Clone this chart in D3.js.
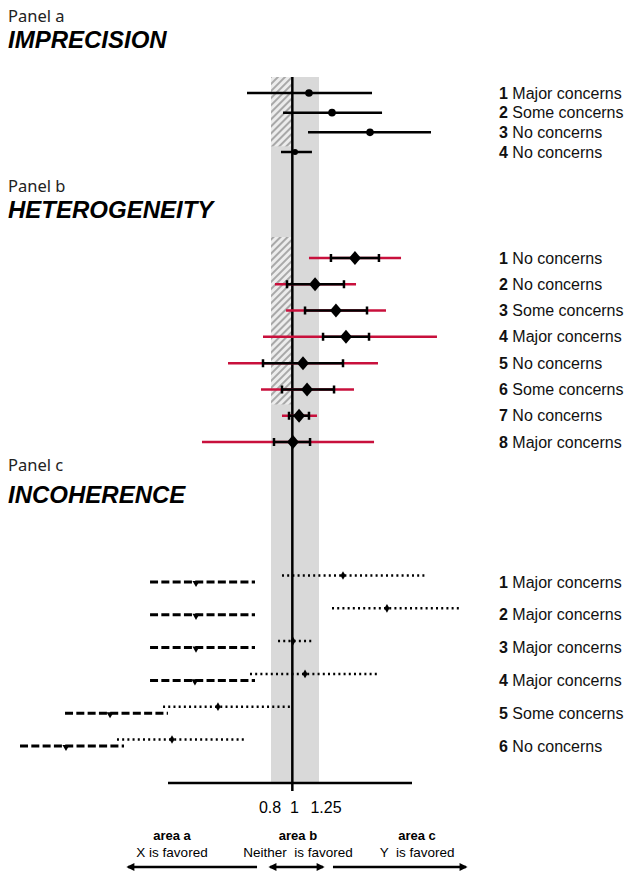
<!DOCTYPE html>
<html>
<head>
<meta charset="utf-8">
<script src="https://cdn.jsdelivr.net/npm/d3@7"></script>
<style>
  body { margin: 0; background: #fff; }
  svg { display: block; }
</style>
</head>
<body>
<div class="svg-container"></div>
<script>
// panel a - imprecision
const impRows = [1, 2, 3, 4];
const impLabels = ["Major concerns", "Some concerns", "No concerns", "No concerns"];
const impEst = [1.156, 1.372, 1.728, 1.025];
const impLo = [0.575, 0.913, 1.147, 0.894];
const impHi = [1.747, 1.841, 2.3, 1.184];

// panel b - heterogeneity (ci = black, pi = red)
const hetRows = [1, 2, 3, 4, 5, 6, 7, 8];
const hetLabels = ["No concerns", "No concerns", "Some concerns", "Major concerns",
  "No concerns", "Some concerns", "No concerns", "Major concerns"];
const hetEst = [1.587, 1.213, 1.409, 1.503, 1.1, 1.138, 1.063, 1.006];
const hetCiLo = [1.362, 0.95, 1.119, 1.288, 0.725, 0.903, 0.969, 0.828];
const hetCiHi = [1.812, 1.484, 1.7, 1.719, 1.475, 1.391, 1.156, 1.166];
const hetPiLo = [1.156, 0.837, 0.941, 0.725, 0.397, 0.706, 0.903, 0.153];
const hetPiHi = [2.019, 1.597, 1.878, 2.356, 1.803, 1.578, 1.231, 1.766];

// panel c - incoherence (indirect = dashed, direct = dotted)
const incRows = [1, 2, 3, 4, 5, 6];
const incLabels = ["Major concerns", "Major concerns", "Major concerns",
  "Major concerns", "Some concerns", "No concerns"];
const indEst = [0.097, 0.097, 0.097, 0.087, -0.709, -1.122];
const indLo = [-0.334, -0.334, -0.334, -0.334, -1.131, -1.553];
const indHi = [0.65, 0.65, 0.65, 0.65, -0.166, -0.578];
const dirEst = [1.475, 1.887, 1.006, 1.119, 0.303, -0.128];
const dirLo = [0.903, 1.372, 0.866, 0.603, -0.212, -0.644];
const dirHi = [2.244, 2.563, 1.184, 1.803, 0.988, 0.556];

// axis and areas
const tickValues = [0.8, 1, 1.25];
const tickText = ["0.8", "1", "1.25"];
const areaNames = ["area a", "area b", "area c"];
const areaTexts = ["X is favored", "Neither  is favored", "Y  is favored"];
const areaCenter = [-0.128, 1.053, 2.169];
const areaFrom = [-0.541, 0.791, 1.381];
const areaTo = [0.669, 1.288, 2.628];

const W = 627, H = 871;
const red = "#c8103c";
const axisY = 783;

const x = d3.scaleLinear().domain([0.8, 1.25]).range([271, 319]);
const yA = d3.scalePoint().domain(impRows).range([93, 152]);
const yB = d3.scalePoint().domain(hetRows).range([258, 442]);
const yC = d3.scalePoint().domain(incRows).range([582, 746]);

const svg = d3.select("div.svg-container")
  .append("svg")
  .attr("width", W)
  .attr("height", H)
  .style("background-color", "#fff");

const defs = svg.append("defs");
defs.append("pattern")
  .attr("id", "hatch")
  .attr("patternUnits", "userSpaceOnUse")
  .attr("width", 5)
  .attr("height", 5)
  .attr("patternTransform", "rotate(45)")
  .call((p) => p.append("rect").attr("width", 5).attr("height", 5).attr("fill", "#ececec"))
  .append("line")
  .attr("x1", 1).attr("x2", 1).attr("y1", 0).attr("y2", 5)
  .attr("stroke", "#8c8c8c")
  .attr("stroke-width", 1.4);

defs.append("marker")
  .attr("id", "arrow")
  .attr("viewBox", "0 0 10 10")
  .attr("refX", 8)
  .attr("refY", 5)
  .attr("markerWidth", 3.6)
  .attr("markerHeight", 3.2)
  .attr("orient", "auto-start-reverse")
  .append("path")
  .attr("d", "M0,0L10,5L0,10z")
  .attr("fill", "#000");

// grey band of equivalence and hatched parts
svg.append("rect")
  .attr("x", x(0.8))
  .attr("y", yA(1) - 16)
  .attr("width", x(1.25) - x(0.8))
  .attr("height", axisY - (yA(1) - 16))
  .attr("fill", "#d9d9d9");

svg.append("g")
  .selectAll("rect")
  .data([[yA(1) - 16, yA(3) + 14], [yB(1) - 21, yB(6) + 15]])
  .join("rect")
  .attr("x", x(0.8))
  .attr("y", (d) => d[0])
  .attr("width", x(1) - x(0.8))
  .attr("height", (d) => d[1] - d[0])
  .attr("fill", "url(#hatch)");

// line of no effect + axis
svg.append("line")
  .attr("x1", x(1)).attr("x2", x(1))
  .attr("y1", yA(1) - 16).attr("y2", axisY + 8)
  .attr("stroke", "#000").attr("stroke-width", 2.5);

svg.append("line")
  .attr("x1", 168).attr("x2", 412)
  .attr("y1", axisY).attr("y2", axisY)
  .attr("stroke", "#000").attr("stroke-width", 2.5);

svg.append("g")
  .attr("font-family", "Liberation Sans, Arial, sans-serif")
  .attr("font-size", 16)
  .attr("text-anchor", "middle")
  .selectAll("text")
  .data(tickValues)
  .join("text")
  .attr("x", (d, i) => x(d) + [-1, 2, 7][i])
  .attr("y", axisY + 30)
  .text((d, i) => tickText[i]);

// panel headings
const heads = [
  { p: "Panel a", t: "IMPRECISION", y: 22 },
  { p: "Panel b", t: "HETEROGENEITY", y: 192 },
  { p: "Panel c", t: "INCOHERENCE", y: 471 },
];
const headG = svg.append("g")
  .selectAll("g")
  .data(heads)
  .join("g");
headG.append("text")
  .attr("x", 8)
  .attr("y", (d) => d.y)
  .attr("font-family", "Noto Sans, sans-serif")
  .attr("font-size", 16.5)
  .attr("fill", "#222")
  .text((d) => d.p);
headG.append("text")
  .attr("x", 8)
  .attr("y", (d, i) => d.y + (i === 2 ? 32 : 26))
  .attr("font-family", "Liberation Sans, Arial, sans-serif")
  .attr("font-size", 24)
  .attr("font-weight", "bold")
  .attr("font-style", "italic")
  .text((d) => d.t);

// row labels
const rowLabel = (rows, labels, y) => {
  svg.append("g")
    .attr("font-family", "Liberation Sans, Arial, sans-serif")
    .attr("font-size", 16)
    .attr("fill", "#111")
    .selectAll("text")
    .data(rows)
    .join("text")
    .attr("x", 499)
    .attr("y", (d) => y(d))
    .attr("dy", "0.35em")
    .call((t) => t.append("tspan").attr("font-weight", "bold").text((d) => d))
    .call((t) => t.append("tspan").text((d, i) => " " + labels[i]));
};
rowLabel(impRows, impLabels, yA);
rowLabel(hetRows, hetLabels, yB);
rowLabel(incRows, incLabels, yC);

// panel a
const gA = svg.append("g");
gA.selectAll("line")
  .data(impRows)
  .join("line")
  .attr("x1", (d, i) => x(impLo[i]))
  .attr("x2", (d, i) => x(impHi[i]))
  .attr("y1", (d) => yA(d))
  .attr("y2", (d) => yA(d))
  .attr("stroke", "#000")
  .attr("stroke-width", 2.5);
gA.selectAll("circle")
  .data(impRows)
  .join("circle")
  .attr("cx", (d, i) => x(impEst[i]))
  .attr("cy", (d) => yA(d))
  .attr("r", (d, i) => (i === 3 ? 3 : 3.8))
  .attr("fill", "#000");

// panel b
const gB = svg.append("g");
gB.selectAll("line.pi")
  .data(hetRows)
  .join("line")
  .attr("class", "pi")
  .attr("x1", (d, i) => x(hetPiLo[i]))
  .attr("x2", (d, i) => x(hetPiHi[i]))
  .attr("y1", (d) => yB(d))
  .attr("y2", (d) => yB(d))
  .attr("stroke", red)
  .attr("stroke-width", 2.5);
gB.selectAll("line.ci")
  .data(hetRows)
  .join("line")
  .attr("class", "ci")
  .attr("x1", (d, i) => x(hetCiLo[i]))
  .attr("x2", (d, i) => x(hetCiHi[i]))
  .attr("y1", (d) => yB(d))
  .attr("y2", (d) => yB(d))
  .attr("stroke", "#000")
  .attr("stroke-width", 2.5);
gB.selectAll("path.cap")
  .data(hetRows)
  .join("path")
  .attr("class", "cap")
  .attr("d", (d, i) => `M${x(hetCiLo[i])},${yB(d) - 4}v8M${x(hetCiHi[i])},${yB(d) - 4}v8`)
  .attr("stroke", "#000")
  .attr("stroke-width", 2.5);
gB.selectAll("path.est")
  .data(hetRows)
  .join("path")
  .attr("class", "est")
  .attr("d", (d, i) => {
    const cx = x(hetEst[i]), cy = yB(d);
    return `M${cx},${cy - 7}L${cx + 6},${cy}L${cx},${cy + 7}L${cx - 6},${cy}Z`;
  })
  .attr("fill", "#000");

// panel c
const gC = svg.append("g");
gC.selectAll("line.ind")
  .data(incRows)
  .join("line")
  .attr("class", "ind")
  .attr("x1", (d, i) => x(indLo[i]))
  .attr("x2", (d, i) => x(indHi[i]))
  .attr("y1", (d) => yC(d))
  .attr("y2", (d) => yC(d))
  .attr("stroke", "#000")
  .attr("stroke-width", 3)
  .attr("stroke-dasharray", "8,3.3");
gC.selectAll("line.dir")
  .data(incRows)
  .join("line")
  .attr("class", "dir")
  .attr("x1", (d, i) => x(dirLo[i]))
  .attr("x2", (d, i) => x(dirHi[i]))
  .attr("y1", (d) => yC(d) - 6.5)
  .attr("y2", (d) => yC(d) - 6.5)
  .attr("stroke", "#000")
  .attr("stroke-width", 2.5)
  .attr("stroke-dasharray", "2,3.2");
gC.selectAll("path.indEst")
  .data(incRows)
  .join("path")
  .attr("class", "indEst")
  .attr("transform", (d, i) => `translate(${x(indEst[i])},${yC(d) + 1}) rotate(180)`)
  .attr("d", d3.symbol(d3.symbolTriangle, 22))
  .attr("fill", "#000");
gC.selectAll("path.dirEst")
  .data(incRows)
  .join("path")
  .attr("class", "dirEst")
  .attr("transform", (d, i) => `translate(${x(dirEst[i])},${yC(d) - 6.5})`)
  .attr("d", d3.symbol(d3.symbolDiamond, 22))
  .attr("fill", "#000");

// areas below the axis
const gArea = svg.append("g")
  .attr("font-family", "Liberation Sans, Arial, sans-serif")
  .attr("text-anchor", "middle")
  .selectAll("g")
  .data(areaNames)
  .join("g");
gArea.append("text")
  .attr("x", (d, i) => x(areaCenter[i]))
  .attr("y", 840)
  .attr("font-size", 13)
  .attr("font-weight", "bold")
  .text((d) => d);
gArea.append("text")
  .attr("x", (d, i) => x(areaCenter[i]))
  .attr("y", 857)
  .attr("font-size", 13.5)
  .style("white-space", "pre")
  .text((d, i) => areaTexts[i]);
gArea.append("line")
  .attr("x1", (d, i) => x(areaFrom[i]))
  .attr("x2", (d, i) => x(areaTo[i]))
  .attr("y1", 867)
  .attr("y2", 867)
  .attr("stroke", "#000")
  .attr("stroke-width", 2.5)
  .attr("marker-start", (d, i) => (i < 2 ? "url(#arrow)" : null))
  .attr("marker-end", (d, i) => (i > 0 ? "url(#arrow)" : null));
</script>
</body>
</html>
